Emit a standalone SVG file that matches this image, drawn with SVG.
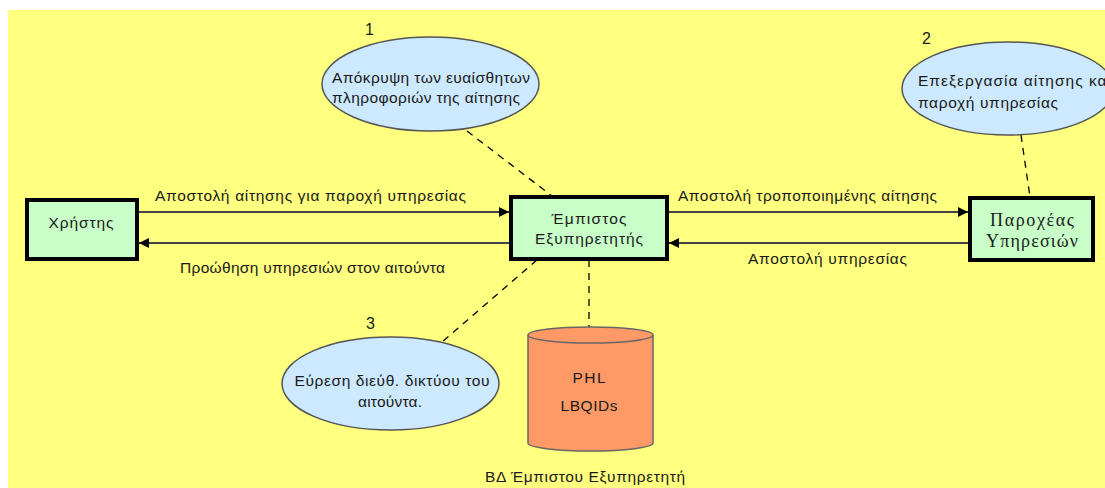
<svg xmlns="http://www.w3.org/2000/svg" width="1105" height="488" viewBox="0 0 1105 488">
<defs>
<style>
text{font-family:"Liberation Sans",Arial,sans-serif;font-size:15.5px;fill:#1a1a1a}
.serif{font-family:"Liberation Serif","Times New Roman",serif;font-size:18px}
.box{fill:#c8ffc8;stroke:#000;stroke-width:4}
.oval{fill:#cce9ff;stroke:#555;stroke-width:1.5}
.flow{stroke:#444;stroke-width:2;fill:none}
.dash{stroke:#000;stroke-width:1.3;stroke-dasharray:7 6;fill:none}
.cyl{fill:#ff9966;stroke:#666;stroke-width:1.5}
.mid{text-anchor:middle}
.num{font-size:16px}
</style>
<marker id="arr" viewBox="0 0 10 10" refX="10" refY="5" markerWidth="10" markerHeight="10" markerUnits="userSpaceOnUse" orient="auto">
<path d="M0,0 L10,5 L0,10 Z" fill="#000"/>
</marker>
</defs>
<rect x="0" y="0" width="1105" height="488" fill="#ffffff"/>
<rect x="8" y="10" width="1097" height="478" fill="#ffff80"/>

<g id="connectors">
<line class="flow" x1="137" y1="212" x2="509" y2="212" marker-end="url(#arr)"/>
<line class="flow" x1="511" y1="243" x2="139" y2="243" marker-end="url(#arr)"/>
<line class="flow" x1="667" y1="212" x2="968" y2="212" marker-end="url(#arr)"/>
<line class="flow" x1="970" y1="243" x2="669" y2="243" marker-end="url(#arr)"/>
<line class="dash" x1="467" y1="131" x2="552" y2="196"/>
<line class="dash" x1="1021" y1="135" x2="1030" y2="197"/>
<line class="dash" x1="537" y1="260" x2="442" y2="342"/>
<line class="dash" x1="589" y1="260" x2="589" y2="327"/>
<text x="155" y="201" textLength="311" lengthAdjust="spacing">Αποστολή αίτησης για παροχή υπηρεσίας</text>
<text x="180" y="273" textLength="265" lengthAdjust="spacing">Προώθηση υπηρεσιών στον αιτούντα</text>
<text x="678" y="201" textLength="259" lengthAdjust="spacing">Αποστολή τροποποιημένης αίτησης</text>
<text x="748" y="264" textLength="159" lengthAdjust="spacing">Αποστολή υπηρεσίας</text>
</g>

<g id="user">
<rect class="box" x="27" y="200" width="110" height="59"/>
<text class="mid" x="81" y="228" textLength="65" lengthAdjust="spacing">Χρήστης</text>
</g>

<g id="trusted-server">
<rect class="box" x="511" y="197" width="156" height="62"/>
<text class="mid" x="589" y="224" textLength="75" lengthAdjust="spacing">Έμπιστος</text>
<text class="mid" x="589" y="244" textLength="108" lengthAdjust="spacing">Εξυπηρετητής</text>
</g>

<g id="provider">
<rect class="box" x="970" y="198" width="123" height="62"/>
<text class="serif mid" x="1032" y="226" textLength="84" lengthAdjust="spacing">Παροχέας</text>
<text class="serif mid" x="1032" y="247" textLength="92" lengthAdjust="spacing">Υπηρεσιών</text>
</g>

<g id="process1">
<text class="num" x="365" y="35">1</text>
<ellipse class="oval" cx="430.5" cy="84" rx="108.5" ry="47"/>
<text x="332" y="83" textLength="198" lengthAdjust="spacing">Απόκρυψη των ευαίσθητων</text>
<text x="332" y="103" textLength="188" lengthAdjust="spacing">πληροφοριών της αίτησης</text>
</g>

<g id="process2">
<text class="num" x="922" y="44">2</text>
<ellipse class="oval" cx="1008" cy="88.5" rx="106" ry="46.5"/>
<text x="918" y="86" textLength="193" lengthAdjust="spacing">Επεξεργασία αίτησης και</text>
<text x="918" y="108" textLength="140" lengthAdjust="spacing">παροχή υπηρεσίας</text>
</g>

<g id="process3">
<text class="num" x="366" y="329">3</text>
<ellipse class="oval" cx="390.5" cy="383.5" rx="108.5" ry="46.5"/>
<text class="mid" x="392" y="386" textLength="195" lengthAdjust="spacing">Εύρεση διεύθ. δικτύου του</text>
<text class="mid" x="390" y="407" textLength="64" lengthAdjust="spacing">αιτούντα.</text>
</g>

<g id="database">
<path class="cyl" d="M528,335 L528,443 A62.5,8 0 0 0 653,443 L653,335"/>
<ellipse class="cyl" cx="590.5" cy="335" rx="62.5" ry="8"/>
<text class="mid" x="589" y="383" textLength="33" lengthAdjust="spacing">PHL</text>
<text class="mid" x="589" y="411" textLength="57" lengthAdjust="spacing">LBQIDs</text>
<text class="mid" x="585" y="482" textLength="200" lengthAdjust="spacing">ΒΔ Έμπιστου Εξυπηρετητή</text>
</g>
</svg>
